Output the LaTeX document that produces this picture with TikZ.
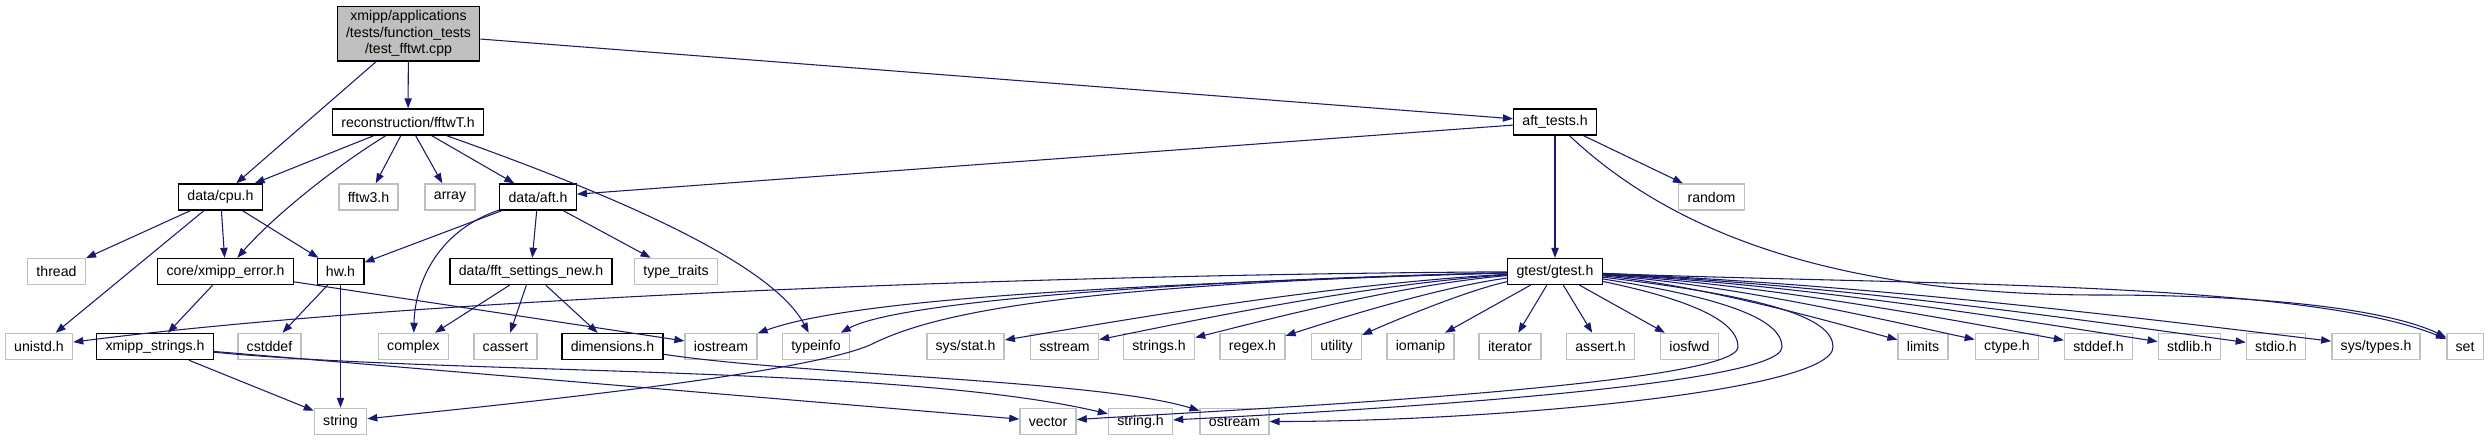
\documentclass[tikz,border=0pt]{standalone}
\usepackage{fontspec}
\setmainfont{Liberation Sans}
\usetikzlibrary{arrows.meta}
\definecolor{edgeblue}{HTML}{191970}
\definecolor{framegray}{HTML}{BFBFBF}

\begin{document}
\begin{tikzpicture}[x=0.75pt, y=-0.75pt,
    every node/.style={font=\fontsize{10.6}{12.5}\selectfont, inner xsep=6.6pt, inner ysep=0pt, minimum height=19.5pt},
    incl/.style={draw=black, line width=1pt, fill=white},
    sysincl/.style={draw=framegray, line width=1.1pt, fill=white},
    edge/.style={draw=edgeblue, line width=0.8pt, -{Triangle[length=7.5pt,width=5.5pt]}}]
            \useasboundingbox (0,0) rectangle (2491,440);
            \node [incl, fill=framegray, align=center, minimum width=105.75pt, minimum height=41pt] (main) at (408.5,33.5) {xmipp/applications\\/tests/function\_tests\\/test\_fftwt.cpp};
            \node [incl] (fftwT) at (408,122) {reconstruction/fftwT.h};
            \node [incl] (afttests) at (1555,122) {aft\_tests.h};
            \node [incl] (cpu) at (220.5,197) {data/cpu.h};
            \node [sysincl] (fftw3) at (368.5,197) {fftw3.h};
            \node [sysincl] (array) at (450,197) {array};
            \node [incl] (aft) at (538,197) {data/aft.h};
            \node [sysincl] (random) at (1711.5,197) {random};
            \node [sysincl] (thread) at (56.5,271.5) {thread};
            \node [incl] (xerror) at (225.5,271.5) {core/xmipp\_error.h};
            \node [incl] (hw) at (340.5,271.5) {hw.h};
            \node [incl] (fftset) at (531,271.5) {data/fft\_settings\_new.h};
            \node [sysincl] (typetraits) at (676,271.5) {type\_traits};
            \node [incl] (gtest) at (1555,271.5) {gtest/gtest.h};
            \node [sysincl] (unistd) at (39,346.5) {unistd.h};
            \node [incl] (xstrings) at (155,346.5) {xmipp\_strings.h};
            \node [sysincl] (cstddef) at (269.5,346.5) {cstddef};
            \node [sysincl] (complex) at (413.5,346.5) {complex};
            \node [sysincl] (cassert) at (505.5,346.5) {cassert};
            \node [incl] (dims) at (612.5,346.5) {dimensions.h};
            \node [sysincl] (iostream) at (721,346.5) {iostream};
            \node [sysincl] (typeinfo) at (816,346.5) {typeinfo};
            \node [sysincl] (sysstat) at (965.5,346.5) {sys/stat.h};
            \node [sysincl] (sstream) at (1064.5,346.5) {sstream};
            \node [sysincl] (stringsh) at (1159,346.5) {strings.h};
            \node [sysincl] (regex) at (1252.5,346.5) {regex.h};
            \node [sysincl] (utility) at (1336.5,346.5) {utility};
            \node [sysincl] (iomanip) at (1420.5,346.5) {iomanip};
            \node [sysincl] (iterator) at (1510,346.5) {iterator};
            \node [sysincl] (asserth) at (1600.5,346.5) {assert.h};
            \node [sysincl] (iosfwd) at (1689.5,346.5) {iosfwd};
            \node [sysincl] (limits) at (1923,346.5) {limits};
            \node [sysincl] (ctype) at (2007,346.5) {ctype.h};
            \node [sysincl] (stddef) at (2098.5,346.5) {stddef.h};
            \node [sysincl] (stdlib) at (2189.5,346.5) {stdlib.h};
            \node [sysincl] (stdio) at (2276,346.5) {stdio.h};
            \node [sysincl] (systypes) at (2376,346.5) {sys/types.h};
            \node [sysincl] (set) at (2465,346.5) {set};
            \node [sysincl] (string) at (340.5,421.5) {string};
            \node [sysincl] (vector) at (1048,421.5) {vector};
            \node [sysincl] (stringh) at (1140.5,421.5) {string.h};
            \node [sysincl] (ostream) at (1234.5,421.5) {ostream};
            \draw [edge] (main) to (fftwT);
            \draw [edge] (main) to (cpu);
            \draw [edge] (main) to (afttests);
            \draw [edge] (fftwT) to (cpu);
            \draw [edge] (fftwT) .. controls (330,170) and (270,220) .. (xerror);
            \draw [edge] (fftwT) to (fftw3);
            \draw [edge] (fftwT) to (array);
            \draw [edge] (fftwT) to (aft);
            \draw [edge] (fftwT) .. controls (600,190) and (770,260) .. (typeinfo);
            \draw [edge] (afttests) to (aft);
            \draw [edge] (afttests) to (random);
            \draw [edge] (afttests) to (gtest);
            \draw [edge] (afttests) .. controls (1680,240) and (1850,295) .. (2100,295) .. controls (2300,295) and (2400,315) .. (set);
            \draw [edge] (cpu) to (thread);
            \draw [edge] (cpu) to (unistd);
            \draw [edge] (cpu) to (xerror);
            \draw [edge] (cpu) to (hw);
            \draw [edge] (aft) to (hw);
            \draw [edge] (aft) .. controls (440,230) and (415,280) .. (complex);
            \draw [edge] (aft) to (fftset);
            \draw [edge] (aft) to (typetraits);
            \draw [edge] (xerror) to (xstrings);
            \draw [edge] (xerror) to (iostream);
            \draw [edge] (hw) to (cstddef);
            \draw [edge] (hw) to (string);
            \draw [edge] (fftset) to (complex);
            \draw [edge] (fftset) to (cassert);
            \draw [edge] (fftset) to (dims);
            \draw [edge] (xstrings) to (string);
            \draw [edge] (xstrings) to (vector);
            \draw [edge] (xstrings) .. controls (450,375) and (900,365) .. (stringh);
            \draw [edge] (dims) .. controls (800,375) and (1100,380) .. (ostream);
            \draw [edge] (gtest) .. controls (1000,275) and (400,300) .. (unistd);
            \draw [edge] (gtest) .. controls (1100,285) and (850,300) .. (iostream);
            \draw [edge] (gtest) .. controls (1200,280) and (900,300) .. (typeinfo);
            \draw [edge] (gtest) .. controls (1050,285) and (930,315) .. (870,345) .. controls (800,375) and (500,405) .. (string);
            \draw [edge] (gtest) .. controls (1319,285) and (1113,322) .. (sysstat);
            \draw [edge] (gtest) .. controls (1359,285) and (1187,322) .. (sstream);
            \draw [edge] (gtest) .. controls (1397,285) and (1258,322) .. (stringsh);
            \draw [edge] (gtest) .. controls (1434,288) and (1328,322) .. (regex);
            \draw [edge] (gtest) .. controls (1468,290) and (1391,322) .. (utility);
            \draw [edge] (gtest) to (iomanip);
            \draw [edge] (gtest) to (iterator);
            \draw [edge] (gtest) to (asserth);
            \draw [edge] (gtest) to (iosfwd);
            \draw [edge] (gtest) .. controls +(120,25) and +(0,-30) .. (1738,347) .. controls +(0,40) and +(150,-10) .. (vector);
            \draw [edge] (gtest) .. controls +(160,25) and +(0,-30) .. (1782,347) .. controls +(0,40) and +(200,-10) .. (stringh);
            \draw [edge] (gtest) .. controls +(210,25) and +(0,-30) .. (1833,347) .. controls +(0,45) and +(250,0) .. (ostream);
            \draw [edge] (gtest) .. controls (1702,285) and (1831,322) .. (limits);
            \draw [edge] (gtest) .. controls (1736,285) and (1894,322) .. (ctype);
            \draw [edge] (gtest) .. controls (1772,285) and (1963,322) .. (stddef);
            \draw [edge] (gtest) .. controls (1809,285) and (2031,322) .. (stdlib);
            \draw [edge] (gtest) .. controls (1843,285) and (2096,322) .. (stdio);
            \draw [edge] (gtest) .. controls (1883,285) and (2171,322) .. (systypes);
            \draw [edge] (gtest) .. controls (1900,285) and (2300,280) .. (set);
        \end{tikzpicture}
\end{document}
